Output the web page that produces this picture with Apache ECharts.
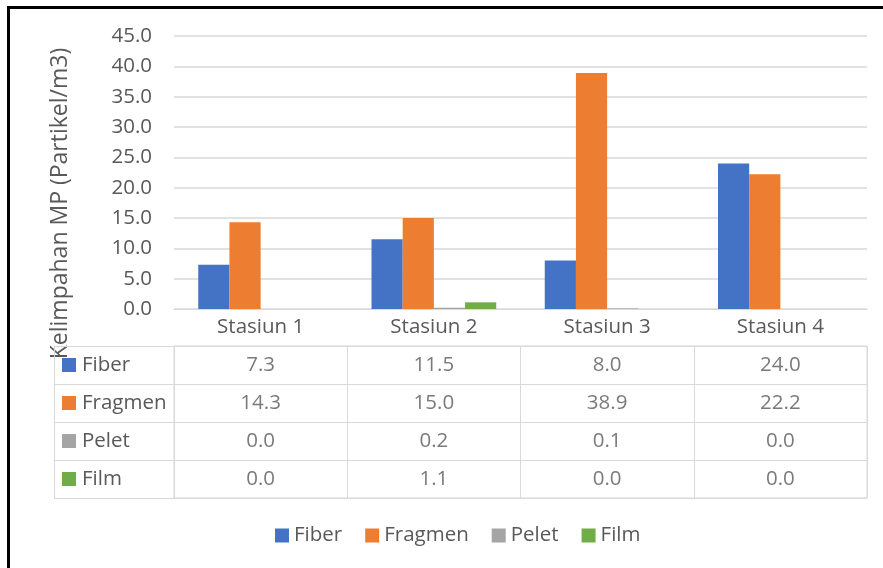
<!DOCTYPE html>
<html>
<head>
<meta charset="utf-8">
<script src="https://cdn.jsdelivr.net/npm/echarts@6/dist/echarts.min.js"></script>
<style>
  html, body { margin: 0; padding: 0; background: #fff; }
  #chart { width: 883px; height: 568px; }
</style>
</head>
<body>
<div id="chart"></div>
<script>
// Microplastic abundance per station, by particle type
const stations = ['Stasiun 1', 'Stasiun 2', 'Stasiun 3', 'Stasiun 4'];
const types = ['Fiber', 'Fragmen', 'Pelet', 'Film'];
const fiber = [7.3, 11.5, 8.0, 24.0];
const fragmen = [14.3, 15.0, 38.9, 22.2];
const pelet = [0.0, 0.2, 0.1, 0.0];
const film = [0.0, 1.1, 0.0, 0.0];
const yTicks = { min: 0, max: 45, interval: 5 };

const seriesValues = [fiber, fragmen, pelet, film];
const colors = ['#4472c4', '#ed7d31', '#a5a5a5', '#70ad47'];
const textColor = '#595959';
const lineColor = '#d9d9d9';
const fontFamily = '"Open Sans", "Noto Sans", sans-serif';
const fontSize = 20.5;
const titleFontSize = 23;

// Cells of the data table: [station index, row index, value]
const tableCells = [];
seriesValues.forEach((vals, r) => vals.forEach((v, c) => tableCells.push([c, r, v])));

const rich = {};
types.forEach((t, i) => {
  rich['sq' + i] = { width: 14, height: 14, backgroundColor: colors[i] };
});
rich.t = { color: textColor, fontSize: fontSize, fontFamily: fontFamily, padding: [0, 0, 0, 6] };

const chart = echarts.init(document.getElementById('chart'), null, { renderer: 'canvas' });

const barSeries = types.map((name, i) => ({
  name: name,
  type: 'bar',
  xAxisIndex: 0,
  yAxisIndex: 0,
  data: seriesValues[i],
  itemStyle: { color: colors[i] },
  barGap: '0%',
  barCategoryGap: '28%'
}));

chart.setOption({
  animation: false,
  textStyle: { fontFamily: fontFamily },
  grid: [
    { left: 174, right: 16, top: 36, bottom: 259 },
    { left: 174, right: 16, top: 346, height: 152, show: true, borderColor: lineColor, borderWidth: 1 }
  ],
  legend: {
    data: types,
    left: 270,
    top: 520,
    itemWidth: 14,
    itemHeight: 14,
    itemGap: 23,
    icon: 'rect',
    textStyle: { color: textColor, fontSize: fontSize, fontFamily: fontFamily }
  },
  xAxis: [
    {
      type: 'category',
      gridIndex: 0,
      data: stations,
      axisLine: { show: true, lineStyle: { color: lineColor, width: 1 } },
      axisTick: { show: false },
      axisLabel: { show: false }
    },
    {
      type: 'category',
      gridIndex: 1,
      data: stations,
      position: 'top',
      axisLine: { show: true, lineStyle: { color: lineColor, width: 1 } },
      axisTick: { show: true, length: 37, lineStyle: { color: lineColor, width: 1 } },
      axisLabel: {
        show: true, color: textColor, fontSize: fontSize, fontFamily: fontFamily,
        margin: 18.5, verticalAlign: 'middle'
      },
      splitLine: { show: true, lineStyle: { color: lineColor, width: 1 } }
    }
  ],
  yAxis: [
    {
      type: 'value',
      gridIndex: 0,
      min: yTicks.min,
      max: yTicks.max,
      interval: yTicks.interval,
      axisLine: { show: false },
      axisTick: { show: false },
      axisLabel: {
        color: textColor, fontSize: fontSize, fontFamily: fontFamily, margin: 22,
        formatter: v => v.toFixed(1)
      },
      splitLine: { lineStyle: { color: lineColor, width: 1.5 } }
    },
    {
      type: 'category',
      gridIndex: 1,
      data: types,
      inverse: true,
      axisLine: { show: true, lineStyle: { color: lineColor, width: 1 } },
      axisTick: { show: true, length: 120, lineStyle: { color: lineColor, width: 1 } },
      axisLabel: {
        show: true, align: 'left', margin: 112,
        formatter: v => '{sq' + types.indexOf(v) + '|}{t|' + v + '}',
        rich: rich
      },
      splitLine: { show: true, lineStyle: { color: lineColor, width: 1 } }
    },
    {
      // left border of the series-name column
      type: 'value',
      gridIndex: 1,
      position: 'left',
      offset: 120,
      axisLine: { show: true, lineStyle: { color: lineColor, width: 1 } },
      axisTick: { show: false },
      axisLabel: { show: false },
      splitLine: { show: false }
    }
  ],
  graphic: [
    {
      type: 'rect',
      silent: true,
      shape: { x: 8.5, y: 7.5, width: 1000, height: 1000 },
      style: { fill: 'none', stroke: '#000', lineWidth: 3 }
    },
    {
      type: 'text',
      silent: true,
      x: 60,
      y: 203.5,
      rotation: Math.PI / 2,
      style: {
        text: 'Kelimpahan MP (Partikel/m3)',
        fill: textColor,
        font: titleFontSize + 'px ' + fontFamily,
        textAlign: 'center',
        textVerticalAlign: 'middle'
      }
    }
  ],
  series: barSeries.concat([
    {
      name: 'table',
      type: 'scatter',
      xAxisIndex: 1,
      yAxisIndex: 1,
      symbol: 'rect',
      symbolSize: 1,
      itemStyle: { color: 'rgba(0,0,0,0)' },
      data: tableCells,
      label: {
        show: true,
        position: 'inside',
        color: textColor,
        fontSize: fontSize,
        fontFamily: fontFamily,
        formatter: p => p.value[2].toFixed(1)
      },
      emphasis: { disabled: true }
    }
  ])
});
</script>
</body>
</html>
